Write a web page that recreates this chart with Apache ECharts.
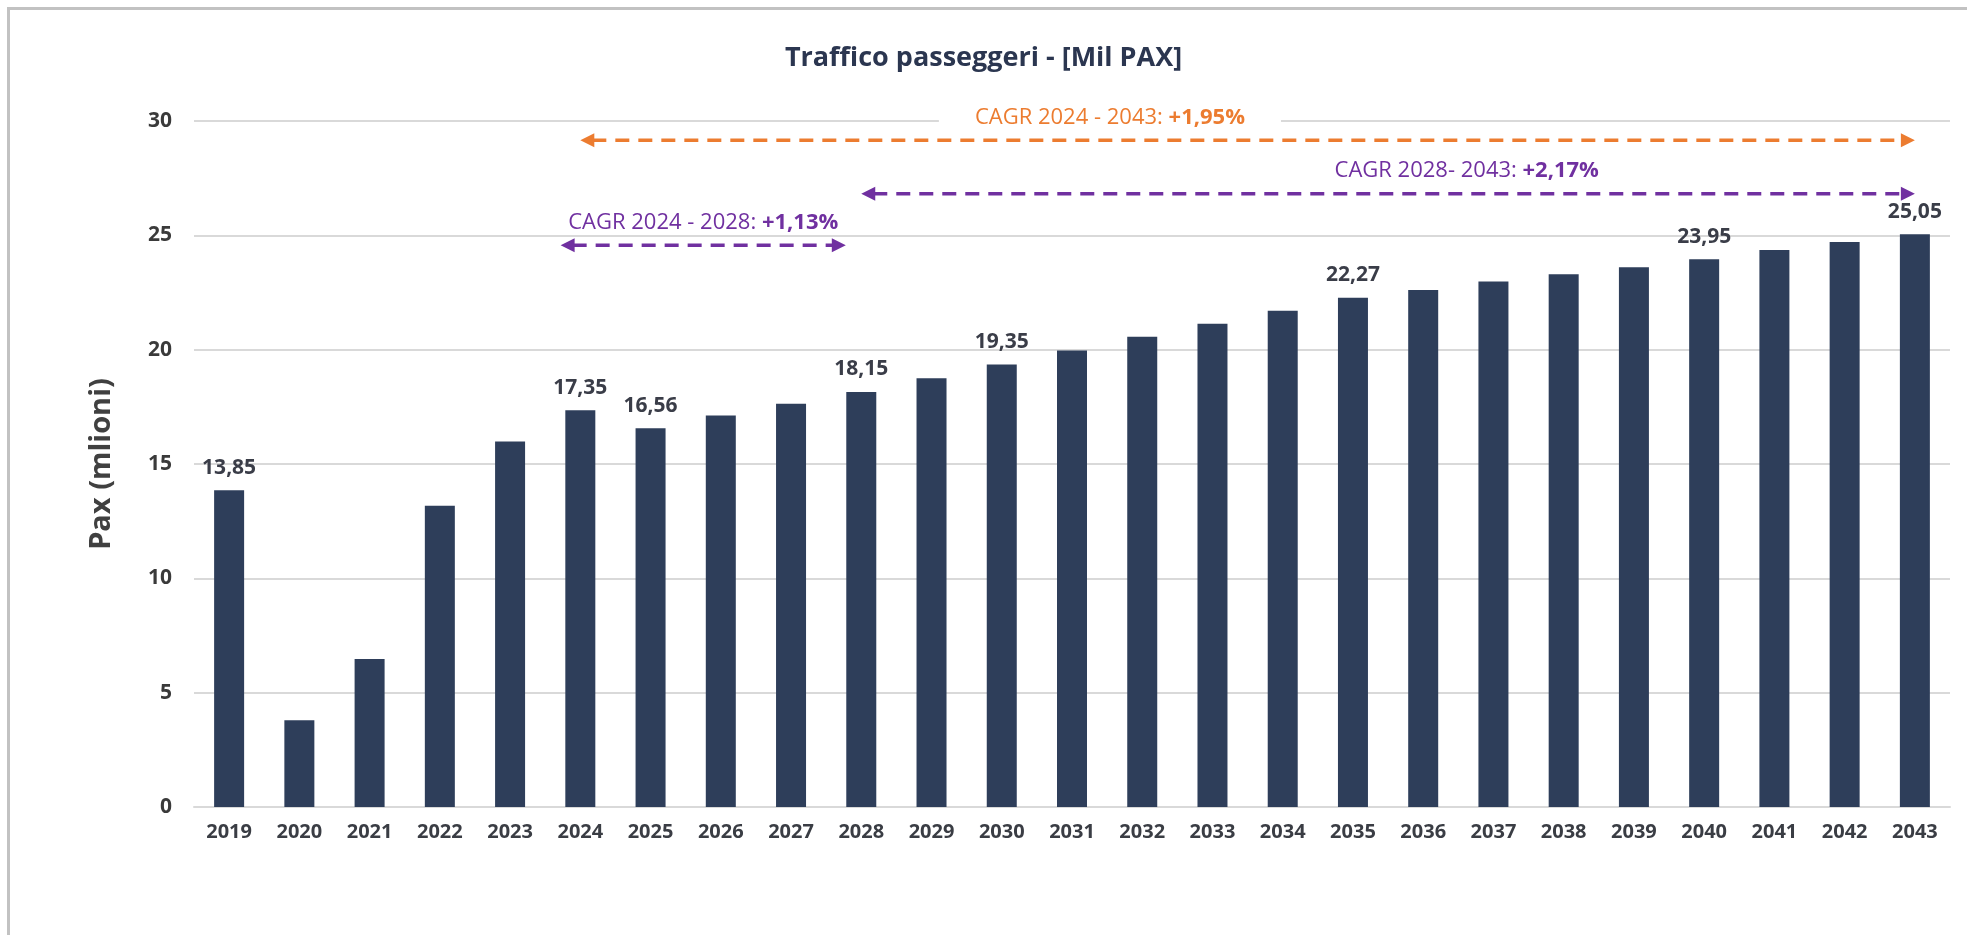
<!DOCTYPE html>
<html>
<head>
<meta charset="utf-8">
<title>Traffico passeggeri</title>
<script src="https://cdn.jsdelivr.net/npm/echarts@6/dist/echarts.min.js"></script>
<style>
  html, body { margin: 0; padding: 0; background: #ffffff; }
  #chart { width: 1967px; height: 935px; }
</style>
</head>
<body>
<div id="chart"></div>
<script>
// Passenger traffic, millions of passengers per year
const years = ['2019', '2020', '2021', '2022', '2023', '2024', '2025', '2026', '2027', '2028',
  '2029', '2030', '2031', '2032', '2033', '2034', '2035', '2036', '2037', '2038',
  '2039', '2040', '2041', '2042', '2043'];
const pax = [13.85, 3.79, 6.47, 13.17, 15.98, 17.35, 16.56, 17.12, 17.63, 18.15,
  18.75, 19.35, 19.96, 20.57, 21.13, 21.70, 22.27, 22.61, 22.98, 23.30,
  23.60, 23.95, 24.36, 24.71, 25.05];
// years whose value is printed above the bar
const labelledYears = ['2019', '2024', '2025', '2028', '2030', '2035', '2040', '2043'];

// y axis ticks
const yMin = 0;
const yMax = 30;
const yStep = 5;

// compound annual growth rates
const cagrPeriods = ['CAGR 2024 - 2043:', 'CAGR 2028- 2043:', 'CAGR 2024 - 2028:'];
const cagrRates = ['+1,95%', '+2,17%', '+1,13%'];

// where each growth-rate arrow and caption sits (x in category units, y in axis units)
const cagrLayout = [
  { x1: 5.0, x2: 24.0, y: 29.16, tx: 12.54, ty: 30.14, color: '#ec7c30', boxed: true },
  { x1: 9.0, x2: 24.0, y: 26.82, tx: 17.62, ty: 27.83, color: '#7030a0', boxed: false },
  { x1: 4.72, x2: 8.78, y: 24.57, tx: 6.75, ty: 25.57, color: '#7030a0', boxed: false }
];

const fmt = v => v.toFixed(2).replace('.', ',');
const FONT = '"Open Sans", "Noto Sans", sans-serif';

const barData = pax.map((v, i) => ({
  value: v,
  label: { show: labelledYears.includes(years[i]) }
}));

const arrowData = cagrLayout.map((c, i) => [c.x1, c.x2, c.y, i]);
const captionData = cagrLayout.map((c, i) => [c.tx, c.ty, i]);

const chart = echarts.init(document.getElementById('chart'), null, { renderer: 'canvas' });

chart.setOption({
  animation: false,
  backgroundColor: '#ffffff',
  title: {
    text: 'Traffico passeggeri - [Mil PAX]',
    left: 'center',
    top: 40,
    textStyle: { fontFamily: FONT, fontSize: 27, fontWeight: 'bold', color: '#2b3650' }
  },
  grid: { left: 194, right: 17, top: 121, bottom: 128, containLabel: false },
  xAxis: [
    {
      type: 'category',
      data: years,
      axisTick: { show: false },
      axisLine: { show: true, lineStyle: { color: '#d9d9d9', width: 2 } },
      axisLabel: { margin: 15, fontFamily: FONT, fontSize: 20, fontWeight: 'bold', color: '#3a3d44' }
    },
    {
      // helper axis spanning the category band, used to place the growth-rate annotations
      type: 'value',
      min: -0.5,
      max: years.length - 0.5,
      show: false
    }
  ],
  yAxis: {
    type: 'value',
    min: yMin,
    max: yMax,
    interval: yStep,
    name: 'Pax (mlioni)',
    nameLocation: 'middle',
    nameRotate: 90,
    nameGap: 78,
    nameTextStyle: { fontFamily: FONT, fontSize: 29, fontWeight: 'bold', color: '#404040' },
    axisLine: { show: false },
    axisTick: { show: false },
    axisLabel: { margin: 22, fontFamily: FONT, fontSize: 21, fontWeight: 'bold', color: '#3a3a3a' },
    splitLine: { lineStyle: { color: '#d9d9d9', width: 2 } }
  },
  series: [
    {
      name: 'Pax',
      type: 'bar',
      data: barData,
      barWidth: 30,
      itemStyle: { color: '#2e3e5a' },
      label: {
        position: 'top',
        distance: 12,
        fontFamily: FONT,
        fontSize: 21,
        fontWeight: 'bold',
        color: '#3a3d48',
        formatter: p => fmt(p.value)
      },
      z: 2
    },
    {
      // dashed double-headed arrows
      type: 'custom',
      xAxisIndex: 1,
      yAxisIndex: 0,
      data: arrowData,
      silent: true,
      z: 5,
      renderItem: (params, api) => {
        const c = cagrLayout[api.value(3)];
        const a = api.coord([api.value(0), api.value(2)]);
        const b = api.coord([api.value(1), api.value(2)]);
        const head = 14, half = 7;
        return {
          type: 'group',
          children: [
            {
              type: 'line',
              shape: { x1: a[0] + head - 2, y1: a[1], x2: b[0] - head + 2, y2: b[1] },
              style: { stroke: c.color, lineWidth: 3.5, lineDash: [14, 9] }
            },
            {
              type: 'polygon',
              shape: { points: [[a[0], a[1]], [a[0] + head, a[1] - half], [a[0] + head, a[1] + half]] },
              style: { fill: c.color }
            },
            {
              type: 'polygon',
              shape: { points: [[b[0], b[1]], [b[0] - head, b[1] - half], [b[0] - head, b[1] + half]] },
              style: { fill: c.color }
            }
          ]
        };
      }
    },
    {
      // growth-rate captions
      type: 'custom',
      xAxisIndex: 1,
      yAxisIndex: 0,
      data: captionData,
      silent: true,
      z: 6,
      renderItem: (params, api) => {
        const i = api.value(2);
        const c = cagrLayout[i];
        const p = api.coord([api.value(0), api.value(1)]);
        return {
          type: 'text',
          x: p[0],
          y: p[1],
          style: {
            text: '{a|' + cagrPeriods[i] + ' }{b|' + cagrRates[i] + '}',
            align: 'center',
            verticalAlign: 'middle',
            backgroundColor: c.boxed ? '#ffffff' : 'transparent',
            padding: c.boxed ? [4, 36] : 0,
            rich: {
              a: { fontFamily: FONT, fontSize: 22, fontWeight: 'normal', fill: c.color, color: c.color },
              b: { fontFamily: FONT, fontSize: 22, fontWeight: 'bold', fill: c.color, color: c.color }
            }
          }
        };
      }
    }
  ],
  graphic: [
    {
      // frame edges
      type: 'line',
      shape: { x1: 7, y1: 8.5, x2: 1967, y2: 8.5 },
      style: { stroke: '#c2c2c2', lineWidth: 3 },
      silent: true
    },
    {
      type: 'line',
      shape: { x1: 8.5, y1: 7, x2: 8.5, y2: 935 },
      style: { stroke: '#c2c2c2', lineWidth: 3 },
      silent: true
    }
  ]
});
</script>
</body>
</html>
